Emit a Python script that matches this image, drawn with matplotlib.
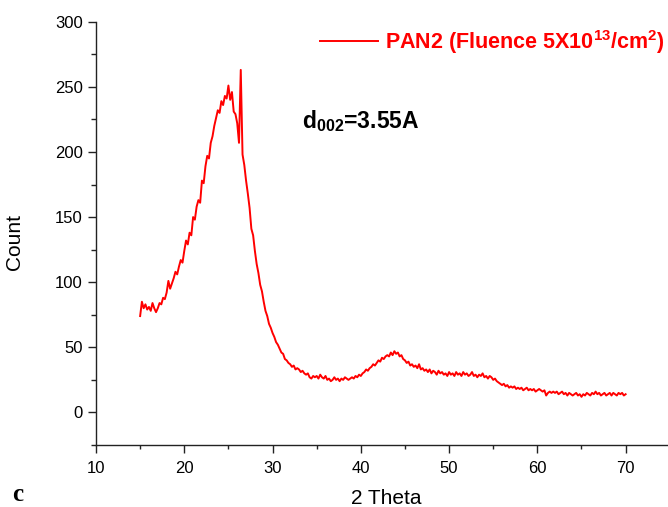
import numpy as np
import matplotlib
matplotlib.use("Agg")
import matplotlib.pyplot as plt

plt.rcParams["font.family"] = ["Liberation Sans", "DejaVu Sans"]
plt.rcParams["mathtext.fontset"] = "custom"
plt.rcParams["mathtext.rm"] = "Liberation Sans"
plt.rcParams["mathtext.bf"] = "Liberation Sans:bold"

## XRD scan, 15 -> 70 deg, 0.2 deg step
scan_start = 15.0
scan_stop  = 70.0
counts = [
    74, 85, 80, 83, 79, 81, 78, 84, 80, 77,
    80, 84, 83, 88, 87, 92, 101, 95, 99, 103,
    108, 106, 112, 117, 115, 124, 132, 129, 138, 136,
    150, 148, 158, 163, 161, 178, 176, 189, 197, 195,
    207, 212, 220, 226, 232, 230, 239, 236, 243, 241,
    251, 240, 246, 231, 229, 222, 207, 263, 198, 190,
    178, 168, 157, 141, 136, 124, 114, 107, 98, 93,
    85, 78, 74, 68, 65, 61, 58, 54, 52, 49,
    46, 45, 41, 40, 38, 37, 35, 36, 33, 34,
    33, 31, 32, 30, 29, 30, 27, 26, 28, 27,
    28, 26, 29, 27, 26, 28, 25, 26, 24, 25,
    27, 25, 26, 24, 26, 25, 27, 26, 25, 26,
    27, 26, 28, 27, 29, 28, 30, 31, 33, 32,
    34, 35, 37, 36, 38, 40, 39, 42, 41, 43,
    44, 43, 46, 44, 47, 45, 46, 43, 44, 41,
    40, 38, 39, 36, 37, 35, 36, 34, 37, 33,
    34, 32, 33, 31, 33, 30, 32, 31, 29, 32,
    30, 31, 29, 30, 28, 31, 29, 30, 28, 31,
    29, 30, 28, 31, 29, 30, 28, 29, 31, 28,
    29, 27, 29, 28, 30, 27, 28, 26, 28, 27,
    25, 26, 24, 23, 22, 21, 22, 20, 21, 19,
    20, 19, 20, 18, 19, 18, 19, 17, 18, 19,
    17, 18, 17, 18, 16, 17, 18, 17, 16, 17,
    13, 15, 16, 15, 16, 15, 16, 14, 15, 16,
    14, 15, 13, 15, 14, 13, 14, 15, 13, 14,
    12, 14, 13, 15, 14, 13, 15, 14, 16, 14,
    15, 13, 14, 15, 13, 14, 15, 13, 15, 14,
    13, 15, 14, 15, 13, 14,
]
two_theta = np.linspace(scan_start, scan_stop, len(counts))

legend_label = r"PAN2 (Fluence 5X10$^{\mathbf{13}}$/cm$^{\mathbf{2}}$)"
d_label      = r"d$_{\mathbf{002}}$=3.55A"

fig = plt.figure(figsize=(6.68, 5.07), dpi=100)
ax = fig.add_axes([96/668., 62/507., 572/668., 423.3/507.])

ax.plot(two_theta, counts, color="red", lw=1.4, label=legend_label)

ax.set_xlim(10, 74.8)
ax.set_ylim(-25, 300)
ax.set_xticks(np.arange(10, 71, 10))
ax.set_xticks(np.arange(15, 75, 10), minor=True)
ax.set_yticks(np.arange(0, 301, 50))
ax.set_yticks(np.arange(-25, 300, 50), minor=True)

for s in ["top", "right"]:
    ax.spines[s].set_visible(False)
for s in ["left", "bottom"]:
    ax.spines[s].set_color("#222222")
    ax.spines[s].set_linewidth(1.0)

ax.tick_params(which="both", direction="out", width=1, color="#222222", labelsize=12)
ax.tick_params(axis="x", which="major", length=5.5, pad=6)
ax.tick_params(axis="x", which="minor", length=3.2)
ax.tick_params(axis="y", which="major", length=6, pad=3.5)
ax.tick_params(axis="y", which="minor", length=3.5)

ax.set_xlabel("2 Theta", fontsize=15)
ax.set_ylabel("Count", fontsize=15)
ax.xaxis.set_label_coords(0.507, -0.103)
ax.yaxis.set_label_coords(-0.126, 0.479)

leg = ax.legend(loc="center left", bbox_to_anchor=(0.392, 0.952), frameon=False,
                borderpad=0, borderaxespad=0, handlelength=2.7, handletextpad=0.3,
                prop=dict(weight="bold", size=15.5), labelcolor="red")

ax.text(33.3, 218, d_label, fontsize=16.5, fontweight="bold", va="baseline", ha="left")

fig.text(12/668., 6/507., "c", family="Liberation Serif", fontweight="bold",
         fontsize=18, va="baseline")

plt.savefig("out.png", dpi=100)
